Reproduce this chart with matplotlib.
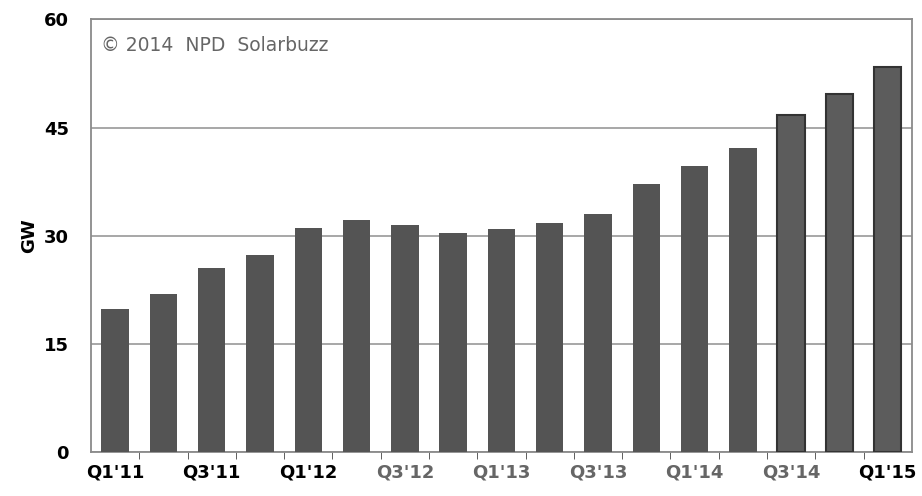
import numpy as np
import matplotlib.pyplot as plt

quarters = ["Q1'11", "Q2'11", "Q3'11", "Q4'11", "Q1'12", "Q2'12", "Q3'12", "Q4'12",
            "Q1'13", "Q2'13", "Q3'13", "Q4'13", "Q1'14", "Q2'14", "Q3'14", "Q4'14", "Q1'15"]
gw = [19.8, 21.9, 25.5, 27.3, 31.1, 32.2, 31.5, 30.4,
      30.9, 31.8, 33.0, 37.2, 39.7, 42.2, 46.7, 49.7, 53.4]
forecast = [False]*14 + [True]*3
label_colors = ['black', 'black', 'black', '#666666', '#666666', '#666666', '#666666', '#666666', 'black']

fig = plt.figure(figsize=(9.22, 4.96), dpi=100)
ax = fig.add_axes([0.0987, 0.0887, 0.8903, 0.8723])

x = np.arange(len(quarters))
for i, (v, fc) in enumerate(zip(gw, forecast)):
    if fc:
        ax.bar(x[i], v, width=0.57, color='#5c5c5c', edgecolor='#333333', linewidth=1.5, zorder=3)
    else:
        ax.bar(x[i], v, width=0.57, color='#545454', zorder=3)

ax.set_xlim(-0.5, len(quarters) - 0.5)
ax.set_ylim(0, 60)
ax.set_yticks([0, 15, 30, 45, 60])
ax.set_yticklabels(['0', '15', '30', '45', '60'], fontweight='bold', fontsize=13)
ax.yaxis.grid(True, color='#a0a0a0', linewidth=1.3, zorder=0)
ax.tick_params(axis='y', length=0, pad=16)

# minor ticks between bars, labels under every other bar
ax.set_xticks(x[::2])
ax.set_xticklabels(quarters[::2], fontweight='bold', fontsize=13)
for lbl, c in zip(ax.get_xticklabels(), label_colors):
    lbl.set_color(c)
ax.tick_params(axis='x', which='major', length=0, pad=8)
ax.set_xticks(np.arange(0.5, len(quarters) - 0.5), minor=True)
ax.tick_params(axis='x', which='minor', length=5, color='#444444', direction='out')

for s in ax.spines.values():
    s.set_color('#8a8a8a')
    s.set_linewidth(1.3)

ax.set_ylabel('GW', fontweight='bold', fontsize=13, labelpad=4)
ax.text(0.012, 0.94, '\u00a9 2014  NPD  Solarbuzz', transform=ax.transAxes,
        fontsize=13.5, color='#666666', va='center', ha='left', family='DejaVu Sans')

fig.savefig('out.png', dpi=100)
